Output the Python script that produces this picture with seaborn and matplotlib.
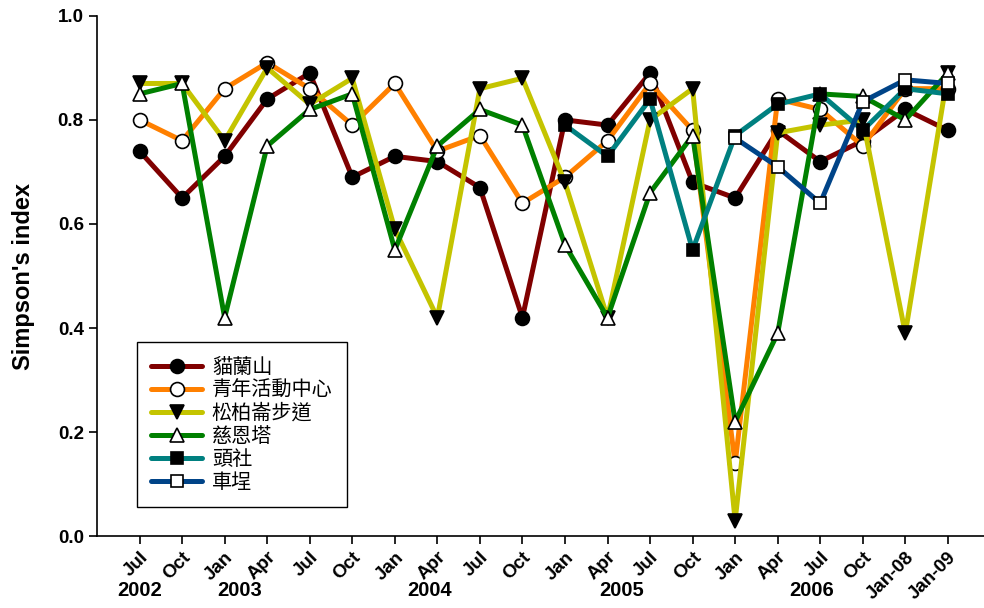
import numpy as np
import pandas as pd
import matplotlib
matplotlib.use("Agg")
import matplotlib.pyplot as plt
import matplotlib.transforms as mtransforms
import seaborn as sns

tick_labels = ["Jul", "Oct", "Jan", "Apr", "Jul", "Oct", "Jan", "Apr", "Jul", "Oct",
               "Jan", "Apr", "Jul", "Oct", "Jan", "Apr", "Jul", "Oct", "Jan-08", "Jan-09"]
years = ["2002", "2003", "2004", "2005", "2006"]
year_pos = [0.0, 2.35, 6.82, 11.34, 15.8]

nan = np.nan
maolanshan = [0.74, 0.65, 0.73, 0.84, 0.89, 0.69, 0.73, 0.72, 0.67, 0.42,
              0.80, 0.79, 0.89, 0.68, 0.65, 0.78, 0.72, 0.76, 0.82, 0.78]
youth_center = [0.80, 0.76, 0.86, 0.91, 0.86, 0.79, 0.87, 0.74, 0.77, 0.64,
                0.69, 0.76, 0.87, 0.78, 0.14, 0.84, 0.82, 0.75, 0.86, 0.86]
songbailun = [0.87, 0.87, 0.76, 0.90, 0.83, 0.88, 0.59, 0.42, 0.86, 0.88,
              0.68, 0.42, 0.80, 0.86, 0.03, 0.775, 0.79, 0.80, 0.39, 0.89]
cihen_tower = [0.85, 0.87, 0.42, 0.75, 0.82, 0.85, 0.55, 0.75, 0.82, 0.79,
               0.56, 0.42, 0.66, 0.77, 0.22, 0.39, 0.85, 0.845, 0.80, 0.89]
toushe = [nan, nan, nan, nan, nan, nan, nan, nan, nan, nan,
          0.79, 0.73, 0.84, 0.55, 0.77, 0.83, 0.85, 0.78, 0.86, 0.85]
checheng = [nan, nan, nan, nan, nan, nan, nan, nan, nan, nan,
            nan, nan, nan, nan, 0.765, 0.71, 0.64, 0.835, 0.877, 0.87]

series = [
    ("貓蘭山", maolanshan, "#800000", "o", "black"),
    ("青年活動中心", youth_center, "#FF8000", "o", "white"),
    ("松柏崙步道", songbailun, "#C4C400", "v", "black"),
    ("慈恩塔", cihen_tower, "#008000", "^", "white"),
    ("頭社", toushe, "#008080", "s", "black"),
    ("車埕", checheng, "#004488", "s", "white"),
]

sns.set_style("ticks")
plt.rcParams['font.family'] = ['Liberation Sans', 'DejaVu Sans']
plt.rcParams.update({"text.color": "black", "axes.labelcolor": "black",
                     "xtick.color": "black", "ytick.color": "black"})

fig = plt.figure(figsize=(9.84, 6.08), dpi=100)
ax = fig.add_axes([0.0986, 0.118, 0.9014, 0.856])

x = np.arange(len(tick_labels))
for name, vals, color, mk, fc in series:
    df = pd.DataFrame({"x": x, "y": vals}).dropna()
    sns.lineplot(data=df, x="x", y="y", ax=ax, color=color, linewidth=3.6,
                 marker=mk, markersize=10 if mk != "s" else 9, markerfacecolor=fc,
                 markeredgecolor="black", markeredgewidth=1.2, label=name)

ax.set_xlim(-1.0, 19.85)
ax.set_ylim(0.0, 1.0)
ax.set_yticks([0.0, 0.2, 0.4, 0.6, 0.8, 1.0])
ax.set_yticklabels(["0.0", "0.2", "0.4", "0.6", "0.8", "1.0"], fontsize=13.5, fontweight="bold")
ax.set_xticks(x)
ax.set_xticklabels(tick_labels, rotation=45, ha="right", va="top",
                   rotation_mode="anchor", fontsize=13.5, fontweight="bold")
ax.tick_params(axis="both", direction="out", length=6, width=1.2, colors="black")
ax.tick_params(axis="x", pad=3)
for s in ["top", "right"]:
    ax.spines[s].set_visible(False)
for s in ["left", "bottom"]:
    ax.spines[s].set_linewidth(1.2)
    ax.spines[s].set_color("black")

ax.set_xlabel("")
ax.set_ylabel("Simpson's index", fontsize=17, fontweight="bold", labelpad=16.5)

trans = mtransforms.blended_transform_factory(ax.transData, ax.transAxes)
for yr, px in zip(years, year_pos):
    ax.text(px, -0.104, yr, transform=trans, ha="center", va="center",
            fontsize=14.5, fontweight="bold")

leg = ax.legend(loc="upper left", bbox_to_anchor=(0.045, 0.373),
                prop={"family": ["Noto Sans CJK TC", "DejaVu Sans"], "size": 14.5},
                frameon=True, fancybox=False, edgecolor="black", framealpha=1,
                handlelength=2.5, labelspacing=0.1, borderpad=0.72, handletextpad=0.5,
                borderaxespad=0)
leg.get_frame().set_linewidth(1.0)
for t in leg.get_texts():
    t.set_color("black")

fig.savefig("out.png", dpi=100)
